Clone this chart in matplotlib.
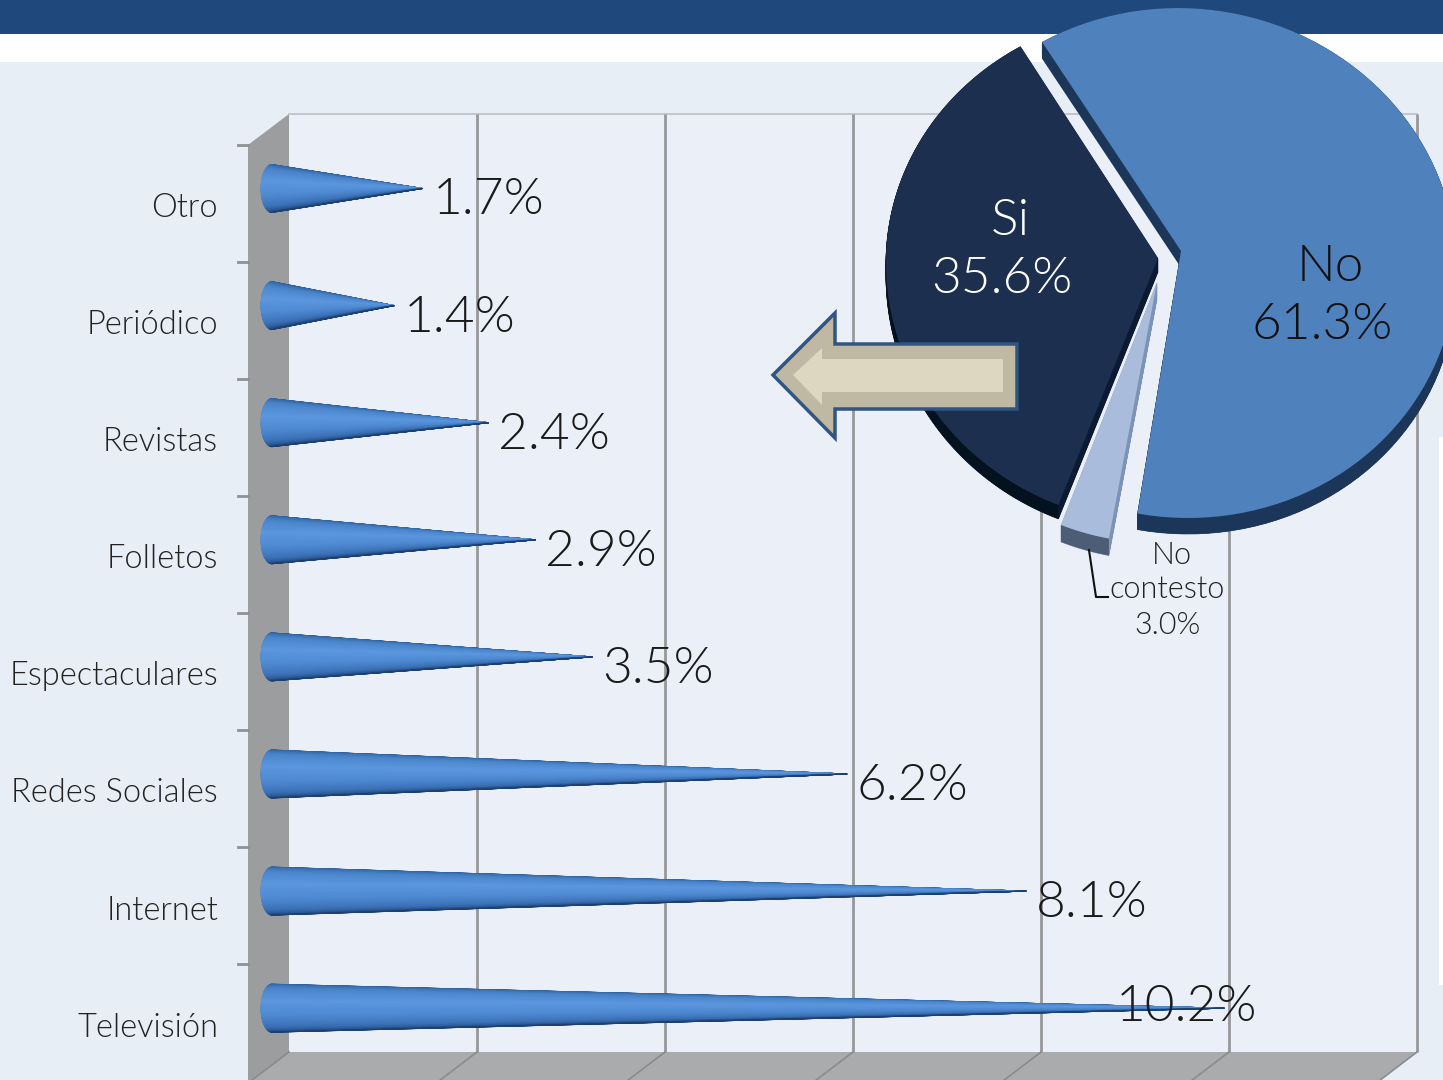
import numpy as np
import matplotlib
matplotlib.use('agg')
import matplotlib.pyplot as plt
from matplotlib import font_manager
from matplotlib.collections import PolyCollection
from matplotlib.colors import LinearSegmentedColormap
from matplotlib.patches import Polygon, Rectangle

# media channels, top to bottom
categories = ['Otro', 'Periódico', 'Revistas', 'Folletos', 'Espectaculares',
              'Redes Sociales', 'Internet', 'Televisión']
media_pct = [1.7, 1.4, 2.4, 2.9, 3.5, 6.2, 8.1, 10.2]

# yes / no answers, clockwise from the upper left
answers = ['No', 'No\ncontesto', 'Si']
answer_pct = [61.3, 3.0, 35.6]

W, H = 1443, 1080
X0, X_SCALE = 262, 94.3
Y0, Y_STEP = 188.5, 117.1
cone_cmap = LinearSegmentedColormap.from_list(
    'cone', ['#2a5c98', '#4a85cc', '#5b97de', '#4f8ad2', '#3a70b5', '#1c4070'])

# the plain "light" weight lookup lands on the hairline cut, so pick the file directly
light_files = [f.fname for f in font_manager.fontManager.ttflist
               if f.name == 'Lato' and f.fname.endswith('Lato-Light.ttf')]


def font(size):
    if light_files:
        return font_manager.FontProperties(fname=light_files[0], size=size)
    return font_manager.FontProperties(family='Lato', size=size)


fig = plt.figure(figsize=(W / 100, H / 100), dpi=100, facecolor='white')

# pixel axes for the backdrop and the pie
ax_bg = fig.add_axes([0, 0, 1, 1], zorder=0)
ax_bg.set_xlim(0, W)
ax_bg.set_ylim(H, 0)
ax_bg.axis('off')

ax_bg.add_patch(Rectangle((0, 0), W, 34, fc='#1f497d', ec='none'))
ax_bg.add_patch(Rectangle((0, 62), W, H - 62, fc='#e8eef6', ec='none'))
ax_bg.add_patch(Rectangle((1439, 437), 4, 548, fc='white', ec='none'))

# 3D box: back wall, left wall, floor
ax_bg.add_patch(Rectangle((289, 114), 1128, 938, fc='#ebeff8', ec='none'))
ax_bg.add_patch(Polygon([(248, 145), (289, 114), (289, 1052), (248, 1084)],
                        fc='#9c9d9f', ec='none'))
ax_bg.add_patch(Polygon([(289, 1052), (1417, 1052), (1375, 1084), (248, 1084)],
                        fc='#a9abad', ec='none'))
ax_bg.plot([289, 1417], [114, 114], color='#bcbec2', lw=1.2)
for gx in range(289, 1418, 188):
    if gx > 289:
        ax_bg.plot([gx, gx], [114, 1052], color='#97989b', lw=2, solid_capstyle='butt')
    ax_bg.plot([gx, gx - 42], [1052, 1084], color='#8a8b8e', lw=1.2)
for ty in np.arange(145, 1000, 117):
    ax_bg.plot([238, 248], [ty, ty], color='#8f9092', lw=2)

# axes in data units for the cones
ax = fig.add_axes([0, 0, 1, 1], zorder=1)
ax.patch.set_alpha(0)
ax.set_xlim(-X0 / X_SCALE, (W - X0) / X_SCALE)
ax.set_ylim((H - Y0) / Y_STEP, -Y0 / Y_STEP)
ax.axis('off')


def draw_cone(value, row):
    # fan of thin triangles from the tip to the rounded base
    xc, rx, ry = 0.106, 0.117, 0.205
    t = np.linspace(-np.pi / 2, np.pi / 2, 61)
    bx = xc - rx * np.cos(t)
    by = row + ry * np.sin(t)
    outline = np.vstack([np.column_stack([bx, by]), [(value, row)]])
    ax.add_patch(Polygon(outline, fc='#3f78bf', ec='#2a5288', lw=0.4))
    polys = [[(bx[i], by[i]), (bx[i + 1], by[i + 1]), (value, row)] for i in range(len(t) - 1)]
    cols = cone_cmap(np.linspace(0, 1, len(polys)))
    ax.add_collection(PolyCollection(polys, facecolors=cols, edgecolors=cols, linewidths=0.7))


for i, (name, value) in enumerate(zip(categories, media_pct)):
    draw_cone(value, i)
    ax.text(-44 / X_SCALE, i + 19.5 / Y_STEP, name, ha='right', va='center',
            fontproperties=font(23.5), color='#222222')
    # the longest cone carries its label over the tip
    dx = -108 if value > 10 else 10
    dy = -1 if value > 10 else 12
    ax.text(value + dx / X_SCALE, i + dy / Y_STEP, f'{value:.1f}%', ha='left', va='center',
            fontproperties=font(37), color='#1a1a1a')

# pie on top of the chart
ax_pie = fig.add_axes([0, 0, 1, 1], zorder=2)
ax_pie.patch.set_alpha(0)
ax_pie.set_xlim(0, W)
ax_pie.set_ylim(H, 0)
ax_pie.axis('off')

# apex, arc centre, radii (x, up, down), skew, rim depth, colours (top, cut side, rim)
slice_style = {
    'No': ((1181, 251), (1183, 262), 273, 254, 256, 0.02, 16, '#4f81bd', '#1b3658', '#1b3658'),
    'No\ncontesto': ((1157, 282), (1158, 282), 265, 261, 261, 0, 17, '#a9bcdc', '#7d93b5', '#4d5d76'),
    'Si': ((1158, 258), (1158, 262), 272, 250, 261, 0, 14, '#1c2f4f', '#0a1a32', '#04111f'),
}


def arc_points(start, sweep, centre, a, b_up, b_down, skew):
    t = np.radians(np.linspace(start, start - sweep, 90))
    s = np.sin(t)
    dy = np.where(s > 0, b_up, b_down) * s
    return np.column_stack([centre[0] + a * np.cos(t) - skew * dy, centre[1] - dy])


angle = 120.0
for name, pct in zip(answers, answer_pct):
    sweep = pct * 3.6
    apex, centre, a, bu, bd, skew, depth, top, side, rim = slice_style[name]
    arc = arc_points(angle, sweep, centre, a, bu, bd, skew)
    pts = np.vstack([[apex], arc])
    for d in np.arange(depth, 0, -1.0):
        ax_pie.add_patch(Polygon(pts + [0, d], fc=side, ec=side, lw=0.5))
    ax_pie.add_patch(Polygon(np.vstack([arc, (arc + [0, depth])[::-1]]), fc=rim, ec='none'))
    ax_pie.add_patch(Polygon(pts, fc=top, ec='none'))
    angle -= sweep

# arrow pointing back at the bar chart
ax_pie.add_patch(Polygon([(773, 375), (835, 313), (835, 344), (1017, 344), (1017, 409),
                          (835, 409), (835, 438)], fc='#bfb8a2', ec='#2f5580', lw=2.5,
                         joinstyle='miter'))
ax_pie.add_patch(Polygon([(793, 375), (822, 348), (822, 359), (1003, 359), (1003, 392),
                          (822, 392), (822, 405)], fc='#ddd6c0', ec='none'))

# leader for the small slice
ax_pie.plot([1089, 1096, 1108], [550, 597, 597], color='#111111', lw=1.5)

big = dict(fontproperties=font(37), ha='center', va='center')
ax_pie.text(1010, 221, 'Si', color='white', **big)
ax_pie.text(1002, 279, f'{answer_pct[2]:.1f}%', color='white', **big)
ax_pie.text(1330, 267, 'No', color='#111111', **big)
ax_pie.text(1322, 325, f'{answer_pct[0]:.1f}%', color='#111111', **big)
small = dict(fontproperties=font(22), ha='center', va='center', color='#222222')
ax_pie.text(1172, 555, 'No', **small)
ax_pie.text(1167, 590, 'contesto', **small)
ax_pie.text(1167, 625, f'{answer_pct[1]:.1f}%', **small)

fig.savefig('out.png', dpi=100)
